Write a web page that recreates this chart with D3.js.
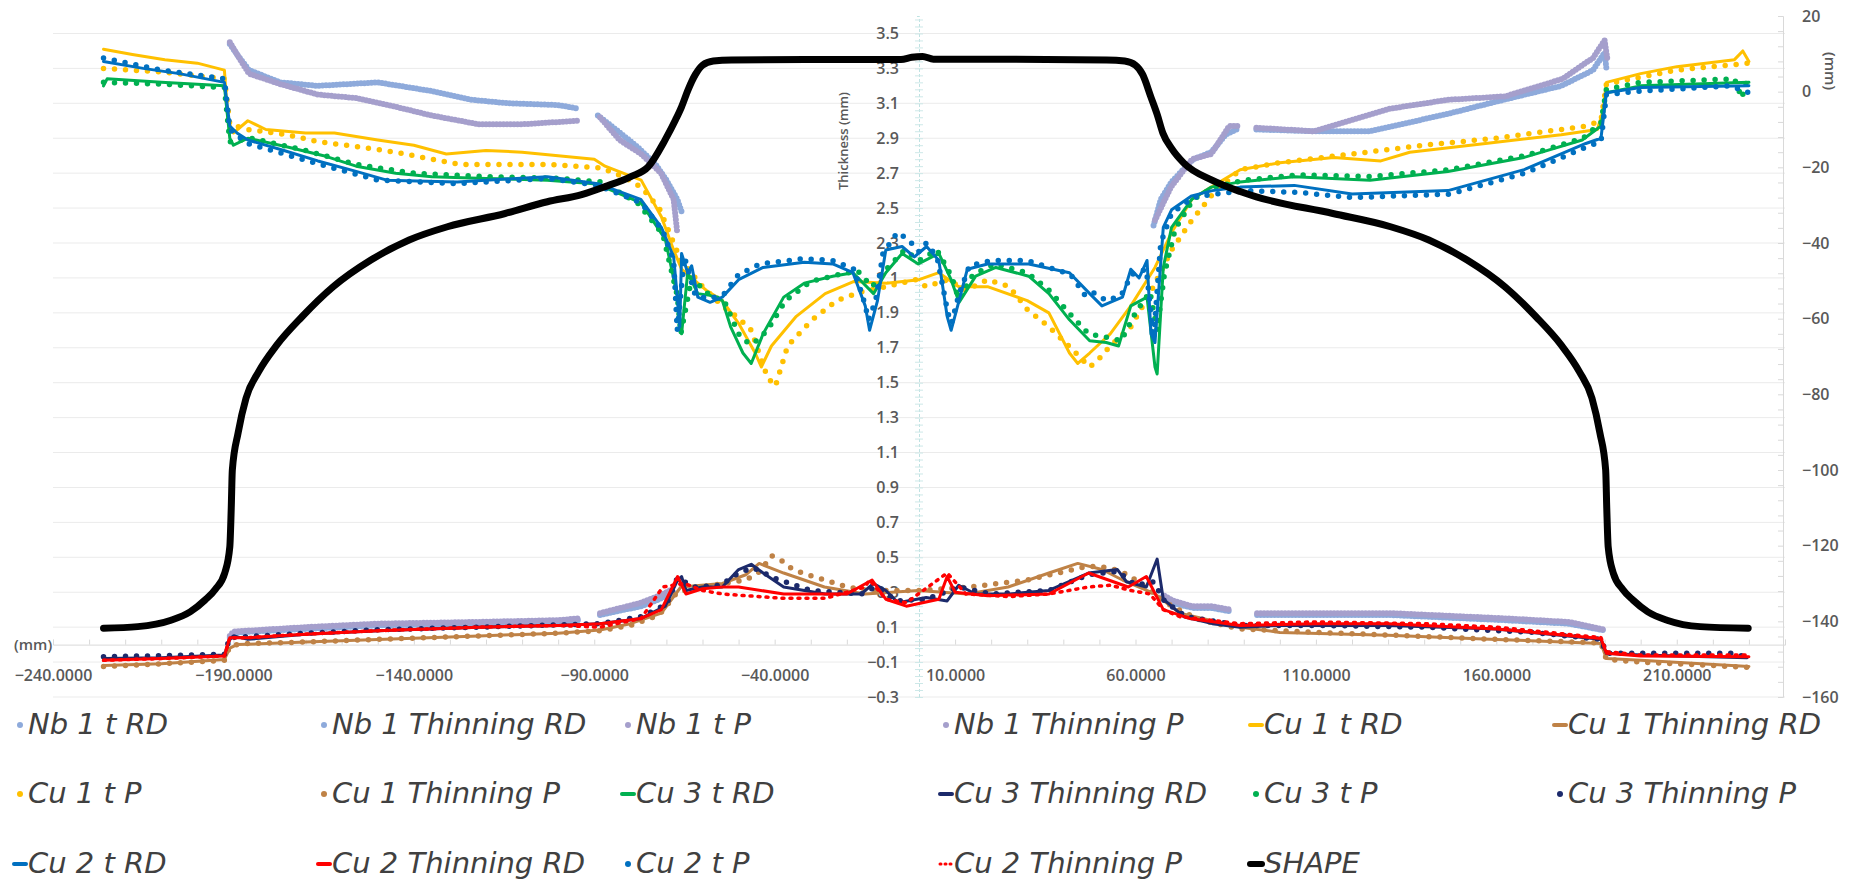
<!DOCTYPE html>
<html>
<head>
<meta charset="utf-8">
<script src="https://cdn.jsdelivr.net/npm/d3@7"></script>
<style>
  body { margin: 0; background: #fff; }
  svg { display: block; }
</style>
</head>
<body>
<script>
// ---- tick labels ----
const xTickLabels = [-240, -190, -140, -90, -40, 10, 60, 110, 160, 210];
const leftTicks = [-0.3, -0.1, 0.1, 0.3, 0.5, 0.7, 0.9, 1.1, 1.3, 1.5, 1.7, 1.9, 2.1, 2.3, 2.5, 2.7, 2.9, 3.1, 3.3, 3.5];
const rightTicks = [-160, -140, -120, -100, -80, -60, -40, -20, 0, 20];

// ---- series (x in mm, value) ----
const nb1tRD = [[-191,3.44],[-189,3.38],[-185.7,3.29],[-177,3.22],[-166.6,3.20],[-150,3.22],[-135,3.17],[-124,3.12],[-113.6,3.10],[-100,3.09],[-94.5,3.07],[-94,null],[-89,3.03],[-84,2.95],[-78,2.85],[-73,2.75],[-70,2.66],[-67,2.55],[-65.8,2.48],[-65,null],[65,2.40],[67,2.55],[70,2.65],[76,2.78],[81,2.82],[85,2.92],[88,2.95],[89,null],[93.5,2.95],[110,2.94],[125,2.94],[146.6,3.04],[162,3.12],[178,3.20],[186.8,3.29],[190,3.39],[190.5,3.30]];
const nb1ThinRD = [[-191,0.04],[-189,0.07],[-170,0.09],[-150,0.11],[-122,0.12],[-100,0.13],[-94.5,0.14],[-94,null],[-88.4,0.17],[-77,0.22],[-72,0.26],[-68,0.30],[-67,null],[67,0.27],[70,0.24],[76,0.21],[81,0.21],[86.4,0.19],[87,null],[93.7,0.17],[130,0.17],[162,0.14],[180,0.12],[190.3,0.08]];
const nb1tP = [[-191,3.45],[-189,3.38],[-185.7,3.27],[-177,3.21],[-166.6,3.15],[-156,3.13],[-145,3.08],[-135,3.03],[-122,2.98],[-110,2.98],[-94.5,3.00],[-94,null],[-88.4,3.02],[-83,2.89],[-77,2.81],[-71.5,2.70],[-68,2.55],[-67,2.36],[-66,null],[65.4,2.43],[69.8,2.62],[75.7,2.78],[81,2.81],[86,2.97],[88.7,2.97],[89,null],[93.5,2.96],[109.5,2.94],[130.7,3.07],[146.6,3.12],[162.5,3.14],[178.4,3.24],[186.8,3.36],[190,3.46],[190.8,3.35]];
const nb1ThinP = [[-191,0.05],[-190,0.075],[-170,0.10],[-150,0.12],[-122,0.13],[-100,0.14],[-94.5,0.15],[-94,null],[-88.4,0.18],[-77,0.24],[-72,0.28],[-69,0.31],[-68,null],[68,0.28],[70,0.255],[75.6,0.22],[81,0.22],[86.4,0.20],[87,null],[93.7,0.18],[130.8,0.18],[162.7,0.15],[180,0.13],[190.3,0.085]];

const cu1tRD = [[-226,3.41],[-218,3.38],[-209,3.35],[-200,3.33],[-192.5,3.29],[-191.5,3.0],[-190,2.93],[-186,3.0],[-181,2.95],[-170,2.93],[-162,2.93],[-150,2.89],[-140,2.86],[-131,2.81],[-120,2.83],[-110,2.82],[-100,2.80],[-90,2.78],[-87,2.74],[-82,2.70],[-77,2.66],[-71.4,2.45],[-68,2.26],[-65.8,2.15],[-59,2.03],[-54.5,1.97],[-50,1.84],[-45.4,1.67],[-43.7,1.59],[-40.9,1.71],[-34,1.88],[-26,2.01],[-18,2.08],[-9,2.07],[0,2.09],[5.5,2.13],[11,2.05],[19,2.05],[30,1.97],[36,1.90],[41.7,1.67],[44,1.61],[47.3,1.67],[53,1.78],[58.7,1.94],[65.4,2.16],[70,2.36],[75.6,2.55],[81,2.62],[89,2.72],[100,2.76],[115,2.79],[128,2.77],[136,2.82],[157,2.87],[178,2.92],[188,2.95],[189.5,3.05],[190.5,3.22],[200,3.27],[210,3.31],[226,3.35],[228.3,3.40],[230,3.34]];
const cu1ThinRD = [[-226,-0.12],[-210,-0.11],[-192.5,-0.085],[-191,-0.02],[-189,0.0],[-170,0.015],[-150,0.03],[-122,0.05],[-100,0.065],[-88.4,0.084],[-80,0.12],[-71.4,0.18],[-66,0.33],[-54.5,0.35],[-48,0.40],[-44.3,0.465],[-37.5,0.41],[-26.2,0.33],[-14.9,0.29],[-0.2,0.31],[13.4,0.29],[24.7,0.33],[36,0.41],[44,0.465],[50.7,0.43],[56.4,0.37],[65.4,0.29],[72.3,0.18],[89,0.10],[100,0.07],[130,0.054],[160,0.03],[189,0.007],[190.5,-0.08],[200,-0.09],[230,-0.125]];
const cu1tP = [[-226,3.30],[-210,3.28],[-192.5,3.24],[-191,2.98],[-186,2.95],[-175,2.92],[-166.6,2.88],[-155,2.85],[-145,2.82],[-135,2.78],[-127,2.75],[-115,2.75],[-103,2.75],[-88,2.73],[-82,2.68],[-77,2.62],[-72,2.50],[-68,2.30],[-66,2.20],[-60,2.05],[-54.5,1.94],[-50,1.87],[-46.5,1.80],[-44,1.65],[-42,1.53],[-39.8,1.48],[-36.4,1.71],[-29.6,1.86],[-22.8,1.97],[-16,2.02],[-9,2.05],[-1,2.09],[2,2.05],[8,2.09],[13,2.03],[19,2.09],[25,2.05],[30,1.92],[36,1.82],[42,1.70],[47.3,1.59],[49.6,1.63],[53,1.71],[58.7,1.82],[64,2.01],[70,2.26],[75.6,2.43],[81,2.57],[89,2.72],[100,2.76],[120,2.81],[140,2.86],[160,2.90],[185,2.97],[189,3.0],[190.5,3.21],[200,3.25],[210,3.29],[230,3.33]];
const cu1ThinP = [[-226,-0.125],[-210,-0.11],[-192.5,-0.09],[-191,-0.01],[-188,0.005],[-170,0.015],[-150,0.03],[-122,0.05],[-100,0.065],[-88.4,0.08],[-80,0.11],[-72,0.17],[-67,0.30],[-60,0.33],[-54,0.35],[-48,0.37],[-44,0.42],[-40.9,0.51],[-38,0.48],[-35,0.43],[-31,0.40],[-26,0.37],[-20,0.33],[-14,0.31],[0,0.31],[14,0.33],[30,0.37],[47,0.45],[53,0.44],[58,0.40],[64,0.31],[70,0.22],[78,0.14],[89,0.09],[110,0.07],[130,0.055],[160,0.03],[189,0.01],[190.5,-0.085],[200,-0.10],[230,-0.13]];

const cu3tRD = [[-226,3.20],[-225,3.24],[-210,3.22],[-192.5,3.20],[-191,2.90],[-190,2.86],[-186,2.90],[-175,2.85],[-165,2.80],[-156,2.74],[-145,2.70],[-135,2.68],[-120,2.67],[-103,2.66],[-90,2.64],[-85,2.60],[-77,2.53],[-70.3,2.32],[-67,2.0],[-65.8,1.78],[-64.1,2.13],[-61.3,2.01],[-57.9,2.0],[-54.5,1.97],[-52.2,1.82],[-48.8,1.67],[-46.5,1.61],[-43.2,1.78],[-37.5,1.99],[-31.8,2.07],[-23.9,2.11],[-18.3,2.13],[-12.6,2.01],[-9.2,2.13],[-4.7,2.24],[-0.2,2.18],[5.5,2.24],[8.9,2.09],[11.1,1.96],[15.7,2.11],[21.3,2.16],[30.4,2.11],[36,2.01],[41.7,1.86],[47.3,1.74],[51.9,1.73],[55.3,1.71],[58.7,1.94],[63.2,1.99],[65.4,1.59],[66,1.55],[67.7,2.16],[70,2.39],[75.6,2.55],[81,2.62],[89,2.65],[104,2.68],[125,2.66],[146.6,2.71],[167.7,2.79],[183.8,2.89],[189,2.97],[190.5,3.16],[200,3.20],[215,3.21],[230,3.22]];
const cu3ThinRD = [[-226,-0.08],[-210,-0.075],[-192.5,-0.06],[-191,0.03],[-190,0.05],[-186,0.03],[-170,0.06],[-150,0.08],[-122,0.10],[-100,0.11],[-88.4,0.12],[-77,0.15],[-70.3,0.22],[-66.9,0.37],[-65.8,0.39],[-64.6,0.31],[-60,0.33],[-54.5,0.33],[-50,0.43],[-46.5,0.46],[-43.2,0.41],[-37.5,0.33],[-26,0.29],[-16,0.29],[-12.6,0.35],[-9.2,0.31],[-5.8,0.24],[2,0.27],[7.8,0.25],[11,0.34],[15.7,0.29],[25,0.29],[36,0.31],[47,0.41],[55,0.43],[57.5,0.36],[63,0.33],[66,0.49],[67.7,0.26],[73.4,0.16],[81.3,0.12],[89,0.10],[100,0.11],[130,0.11],[160,0.09],[189,0.03],[190.5,-0.05],[200,-0.06],[229.5,-0.075]];
const cu3tP = [[-226,3.22],[-210,3.21],[-192.5,3.19],[-191,2.88],[-185,2.90],[-170,2.83],[-156,2.75],[-140,2.70],[-120,2.68],[-100,2.67],[-88,2.65],[-78,2.53],[-71,2.35],[-67,2.0],[-66,1.78],[-63,2.10],[-58,2.00],[-54,1.97],[-50,1.78],[-47,1.72],[-45,1.74],[-42,1.80],[-37,1.97],[-30,2.08],[-22,2.12],[-17,2.14],[-13,2.05],[-9,2.15],[-4,2.26],[0,2.20],[5,2.26],[9,2.11],[11,1.98],[15,2.12],[21,2.18],[30,2.13],[36,2.03],[42,1.89],[47,1.78],[52,1.76],[56,1.74],[60,1.90],[64,2.02],[66,1.80],[68,2.12],[71,2.38],[76,2.55],[82,2.62],[90,2.66],[105,2.69],[125,2.68],[147,2.72],[168,2.80],[184,2.90],[189,2.99],[190.5,3.18],[200,3.22],[226,3.24],[228,3.13],[230,3.27]];
const cu3ThinP = [[-226,-0.07],[-192.5,-0.055],[-191,0.04],[-170,0.065],[-150,0.085],[-122,0.10],[-88.4,0.12],[-77,0.16],[-70,0.23],[-67,0.38],[-62,0.33],[-55,0.34],[-50,0.41],[-46,0.44],[-40,0.38],[-30,0.31],[-16,0.29],[-12,0.33],[-6,0.25],[2,0.26],[11,0.33],[20,0.29],[36,0.31],[47,0.40],[55,0.42],[60,0.34],[65,0.36],[68,0.25],[74,0.16],[89,0.11],[110,0.11],[140,0.10],[170,0.07],[189,0.03],[190.5,-0.05],[226,-0.05],[230,-0.08]];

const cu2tRD = [[-226,3.34],[-215,3.30],[-205,3.27],[-192.5,3.22],[-191,2.97],[-189,2.93],[-186,2.89],[-176,2.83],[-166.6,2.77],[-156,2.71],[-147.5,2.66],[-128,2.65],[-103,2.68],[-89,2.64],[-77.1,2.55],[-71.4,2.39],[-68,2.22],[-66.9,1.97],[-66.3,1.82],[-65.8,2.24],[-64.1,2.13],[-63,2.17],[-61.3,1.99],[-57.9,1.96],[-54.5,1.99],[-50,2.09],[-43.2,2.16],[-31.8,2.19],[-23.9,2.18],[-18.3,2.13],[-14.9,1.94],[-13.7,1.80],[-11.5,1.97],[-9.2,2.26],[-4.7,2.28],[-1.3,2.22],[2.1,2.28],[5.5,2.20],[7.8,1.88],[8.9,1.80],[11.1,1.97],[13.4,2.15],[19,2.18],[30.4,2.18],[41.7,2.13],[47.3,2.01],[50.7,1.94],[54.1,1.97],[56.4,1.99],[58.7,2.15],[61,2.10],[63.2,2.20],[64.3,1.78],[65.4,1.73],[67.7,2.39],[70,2.49],[75.6,2.57],[81.3,2.60],[89,2.62],[104,2.63],[120,2.58],[146.6,2.60],[167.7,2.72],[184.8,2.87],[189,2.90],[190.5,3.16],[200,3.19],[230,3.20]];
const cu2ThinRD = [[-226,-0.09],[-210,-0.08],[-192.5,-0.065],[-191,0.04],[-186,0.04],[-170,0.06],[-150,0.08],[-122,0.10],[-100,0.11],[-88.4,0.12],[-77,0.15],[-71.4,0.20],[-66.9,0.39],[-64.6,0.29],[-60,0.32],[-54.5,0.33],[-50,0.33],[-37.5,0.29],[-20,0.29],[-13,0.37],[-9.2,0.26],[-3.5,0.22],[5.5,0.26],[7.8,0.39],[10,0.30],[19,0.28],[36,0.29],[47,0.41],[58,0.33],[63,0.39],[67.7,0.20],[75,0.15],[89,0.11],[110,0.12],[130,0.12],[160,0.09],[189,0.035],[190.5,-0.05],[200,-0.065],[230,-0.07]];
const cu2tP = [[-226,3.36],[-210,3.29],[-192.5,3.24],[-191,2.95],[-186,2.87],[-176,2.81],[-166,2.75],[-150,2.66],[-128,2.64],[-103,2.67],[-89,2.63],[-77,2.53],[-71,2.37],[-68,2.20],[-67,1.80],[-65,2.22],[-62,2.00],[-58,1.98],[-54,2.01],[-50,2.12],[-44,2.18],[-32,2.21],[-24,2.20],[-18,2.15],[-15,1.95],[-14,1.86],[-12,1.97],[-10,2.24],[-6,2.36],[-3,2.32],[0,2.25],[2,2.30],[5,2.22],[8,1.90],[9,1.84],[11,2.00],[14,2.17],[20,2.20],[30,2.20],[42,2.12],[46,2.00],[48,2.02],[52,1.97],[56,2.00],[59,2.12],[63,2.15],[65,1.75],[67,2.30],[70,2.47],[76,2.56],[82,2.58],[90,2.60],[105,2.59],[120,2.56],[147,2.58],[168,2.70],[185,2.85],[189,2.88],[190.5,3.15],[200,3.17],[225,3.20],[230,3.16]];
const cu2ThinP = [[-226,-0.09],[-210,-0.08],[-192.5,-0.065],[-191,0.04],[-186,0.04],[-170,0.06],[-150,0.08],[-122,0.10],[-100,0.11],[-88.4,0.10],[-77,0.15],[-71,0.33],[-65,0.35],[-60,0.31],[-54.5,0.29],[-37.5,0.265],[-26,0.265],[-15,0.33],[-13.7,0.37],[-9.2,0.26],[-3.5,0.24],[7.8,0.41],[13,0.29],[25,0.275],[36,0.29],[47,0.33],[53,0.34],[58.7,0.31],[64,0.29],[67.7,0.20],[72.3,0.16],[89,0.12],[110,0.13],[140,0.12],[160,0.10],[189,0.04],[190.5,-0.04],[200,-0.06],[230,-0.06]];

// SHAPE profile, secondary axis (mm)
const shape = [[-226,-141.8],[-216.5,-141.4],[-207.3,-139.7],[-202,-137.5],[-197.9,-134.4],[-195,-131.5],[-192.4,-127.2],[-191,-120.3],[-190.6,-110],[-190.3,-100],[-188.7,-90.2],[-186.5,-81],[-183,-74],[-178,-67],[-171,-59.5],[-162.4,-51.6],[-151.9,-44.5],[-141.3,-39.2],[-130.7,-35.7],[-114.7,-32.2],[-103,-29.1],[-93.5,-27.2],[-87,-25.1],[-80,-22.5],[-75,-19.8],[-70.4,-12.8],[-67.5,-7.5],[-65.8,-4],[-64,0.5],[-62,4.5],[-60,7],[-57,8.1],[-52,8.4],[-20,8.5],[-5,8.5],[-2,9.1],[1,9.3],[4,8.6],[20,8.6],[52,8.4],[57,8.1],[60,7],[62,4.5],[64.3,-1.5],[66,-6],[67.6,-11],[70,-15],[73.4,-18.9],[81.2,-23.4],[89,-26.4],[93.5,-27.8],[114.7,-32.2],[130.7,-35.7],[141.3,-39.2],[151.9,-44.5],[162.4,-51.6],[171,-59.5],[178,-67],[183,-74],[186.5,-81],[188.7,-90.2],[190.3,-100],[190.6,-110],[191,-120.3],[192.4,-127.2],[195,-131.5],[197.9,-134.4],[202,-137.5],[207.3,-139.7],[216.5,-141.4],[229.8,-141.8]];

const seriesNames = ["Nb 1 t RD", "Nb 1 Thinning RD", "Nb 1 t P", "Nb 1 Thinning P", "Cu 1 t RD", "Cu 1 Thinning RD",
  "Cu 1 t P", "Cu 1 Thinning P", "Cu 3 t RD", "Cu 3 Thinning RD", "Cu 3 t P", "Cu 3 Thinning P",
  "Cu 2 t RD", "Cu 2 Thinning RD", "Cu 2 t P", "Cu 2 Thinning P", "SHAPE"];
const seriesData = [nb1tRD, nb1ThinRD, nb1tP, nb1ThinP, cu1tRD, cu1ThinRD, cu1tP, cu1ThinP,
  cu3tRD, cu3ThinRD, cu3tP, cu3ThinP, cu2tRD, cu2ThinRD, cu2tP, cu2ThinP, shape];
const seriesColors = ["#8eaadb", "#8eaadb", "#a59fcc", "#a59fcc", "#ffc000", "#bf8246",
  "#ffc000", "#bf8246", "#00b050", "#1c2a6b", "#00b050", "#1c2a6b",
  "#0070c0", "#ff0000", "#0070c0", "#ff0000", "#000000"];
const seriesKinds = ["dense", "dense", "dense", "dense", "line", "line", "dots", "dots",
  "line", "line", "dots", "dots", "line", "line", "dots", "dashdot", "shape"];

const W = 1859, H = 885;
const svg = d3.select("body").append("svg").attr("width", W).attr("height", H)
  .style("font-family", "'Open Sans', sans-serif");
svg.append("rect").attr("width", W).attr("height", H).attr("fill", "#fff");

const x = d3.scaleLinear().domain([-240, 240]).range([53, 1785]);
const yL = d3.scaleLinear().domain([-0.3, 3.6]).range([697, 16]);
const yR = d3.scaleLinear().domain([-160, 20]).range([697, 16]);

//Gridlines
svg.append("g").selectAll("line").data(leftTicks).join("line")
  .attr("x1", x.range()[0]).attr("x2", x.range()[1])
  .attr("y1", d => yL(d)).attr("y2", d => yL(d))
  .attr("stroke", "#ebebeb").attr("stroke-width", 1);

//X axis at thickness 0
const xAxisY = yL(0);
const xMinor = svg.append("g").attr("transform", "translate(0," + xAxisY + ")")
  .call(d3.axisBottom(x).tickValues(d3.range(-240, 241, 10)).tickSize(-5).tickFormat(""));
xMinor.select(".domain").attr("stroke", "#d9d9d9");
xMinor.selectAll(".tick line").attr("stroke", "#d9d9d9");
const xLab = svg.append("g").attr("transform", "translate(0," + xAxisY + ")")
  .call(d3.axisBottom(x).tickValues(xTickLabels).tickSize(0).tickPadding(25).tickFormat(d3.format(".4f")));
xLab.select(".domain").remove();
xLab.selectAll("text").attr("font-size", 16).attr("font-weight", 600).attr("fill", "#595959")
  .style("font-family", "'Open Sans', sans-serif");

//Left (thickness) axis at x = 0
const yMinor = svg.append("g").attr("transform", "translate(" + x(0) + ",0)")
  .call(d3.axisLeft(yL).tickValues(d3.range(-0.3, 3.61, 0.04)).tickSize(4).tickFormat(""));
yMinor.select(".domain").attr("stroke", "#bfe2e2").attr("stroke-dasharray", "3 2");
yMinor.selectAll(".tick line").attr("stroke", "#cde8e8").attr("x2", 4).attr("x1", -4);
const yLab = svg.append("g").attr("transform", "translate(" + x(0) + ",0)")
  .call(d3.axisLeft(yL).tickValues(leftTicks).tickSize(0).tickPadding(20).tickFormat(d3.format(".1f")));
yLab.select(".domain").remove();
yLab.selectAll("text").attr("font-size", 16).attr("font-weight", 600).attr("fill", "#595959")
  .style("font-family", "'Open Sans', sans-serif");

//Right (shape) axis
const rx = x.range()[1] - 2;
const rMinor = svg.append("g").attr("transform", "translate(" + rx + ",0)")
  .call(d3.axisLeft(yR).tickValues(d3.range(-160, 21, 4)).tickSize(5).tickFormat(""));
rMinor.select(".domain").attr("stroke", "#d9d9d9");
rMinor.selectAll(".tick line").attr("stroke", "#d9d9d9");
const rLab = svg.append("g").attr("transform", "translate(" + rx + ",0)")
  .call(d3.axisRight(yR).tickValues(rightTicks).tickSize(0).tickPadding(19));
rLab.select(".domain").remove();
rLab.selectAll("text").attr("font-size", 16).attr("font-weight", 600).attr("fill", "#595959")
  .style("font-family", "'Open Sans', sans-serif");

//Axis titles
svg.append("text").attr("transform", "translate(848,141) rotate(-90)")
  .attr("text-anchor", "middle").attr("font-size", 13).attr("font-weight", 600)
  .attr("fill", "#595959").text("Thickness (mm)");
svg.append("text").attr("transform", "translate(1825,71) rotate(90)")
  .attr("text-anchor", "middle").attr("font-size", 15).attr("font-weight", 600)
  .attr("fill", "#595959").text("(mm)");
svg.append("text").attr("x", 14).attr("y", 650)
  .attr("font-size", 15).attr("font-weight", 600).attr("fill", "#595959").text("(mm)");

//Series
const plot = svg.append("g");
seriesData.forEach((data, i) => {
  const kind = seriesKinds[i];
  const ys = kind === "shape" ? yR : yL;
  const line = d3.line()
    .defined(d => d[1] != null)
    .x(d => x(d[0]))
    .y(d => ys(d[1]))
    .curve(kind === "shape" ? d3.curveMonotoneX : d3.curveLinear);
  const p = plot.append("path").datum(data)
    .attr("d", line)
    .attr("fill", "none")
    .attr("stroke", seriesColors[i])
    .attr("stroke-linejoin", "round")
    .attr("stroke-linecap", "round");
  if (kind === "line") p.attr("stroke-width", 3);
  if (kind === "shape") p.attr("stroke-width", 7);
  if (kind === "dense") p.attr("stroke-width", 6).attr("stroke-dasharray", "0 3.5");
  if (kind === "dots") p.attr("stroke-width", 5.5).attr("stroke-dasharray", "0 11");
  if (kind === "dashdot") p.attr("stroke-width", 3.5).attr("stroke-dasharray", "2 6");
});

//Legend
const legX = [14, 318, 622, 940, 1250, 1554];
const legY = [723, 792, 862];
const leg = svg.append("g");
seriesNames.forEach((name, i) => {
  const cx = legX[i % 6], cy = legY[Math.floor(i / 6)];
  const kind = seriesKinds[i];
  const g = leg.append("g").attr("transform", "translate(" + cx + "," + cy + ")");
  if (kind === "line" || kind === "shape" ) {
    g.append("line").attr("x1", 0).attr("x2", 12).attr("y1", 2).attr("y2", 2)
      .attr("stroke", seriesColors[i]).attr("stroke-width", kind === "shape" ? 6 : 4)
      .attr("stroke-linecap", "round");
  } else if (kind === "dashdot") {
    g.append("line").attr("x1", 0).attr("x2", 12).attr("y1", 2).attr("y2", 2)
      .attr("stroke", seriesColors[i]).attr("stroke-width", 3)
      .attr("stroke-dasharray", "1 4").attr("stroke-linecap", "round");
  } else {
    g.append("circle").attr("cx", 6).attr("cy", 2).attr("r", 3).attr("fill", seriesColors[i]);
  }
  g.append("text").attr("x", 14).attr("y", 11)
    .attr("font-size", 29).attr("font-style", "italic")
    .attr("fill", "#404040").style("font-family", "'DejaVu Sans', sans-serif")
    .text(name);
});
</script>
</body>
</html>
